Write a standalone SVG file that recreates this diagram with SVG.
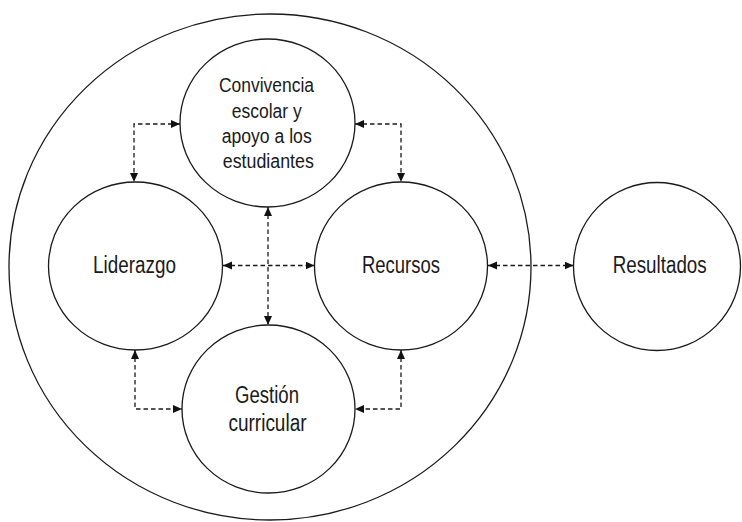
<svg xmlns="http://www.w3.org/2000/svg" width="742" height="522" viewBox="0 0 742 522">
<style>
.n{fill:#fff;stroke:#1a1a1a;stroke-width:1.3}
.t{font-family:"Liberation Sans Narrow","Liberation Sans",Arial,sans-serif;font-size:23px;fill:#1a1a1a;text-anchor:middle}
.s{font-size:20px}
.c{fill:none;stroke:#1a1a1a;stroke-width:1.3;stroke-dasharray:4.5 3;marker-start:url(#a);marker-end:url(#a)}
</style>
<defs>
<marker id="a" markerUnits="userSpaceOnUse" markerWidth="10" markerHeight="10" refX="9" refY="4" orient="auto-start-reverse">
<path d="M0,0 L9,4 L0,8 z" fill="#111"/>
</marker>
</defs>
<rect width="742" height="522" fill="#fff"/>
<g id="outer"><ellipse class="n" cx="270" cy="267" rx="261" ry="253"/></g>
<g id="convivencia">
<ellipse class="n" cx="267.5" cy="123" rx="87.5" ry="84"/>
<text class="t s" x="266.5" y="91.7" textLength="95" lengthAdjust="spacingAndGlyphs">Convivencia</text>
<text class="t s" x="266.7" y="117.7" textLength="70" lengthAdjust="spacingAndGlyphs">escolar y</text>
<text class="t s" x="266.7" y="143" textLength="90" lengthAdjust="spacingAndGlyphs">apoyo a los</text>
<text class="t s" x="268.3" y="168" textLength="91" lengthAdjust="spacingAndGlyphs">estudiantes</text>
</g>
<g id="liderazgo">
<ellipse class="n" cx="135.5" cy="266" rx="87" ry="84"/>
<text class="t" x="134.5" y="273.3" textLength="83" lengthAdjust="spacingAndGlyphs">Liderazgo</text>
</g>
<g id="recursos">
<ellipse class="n" cx="401" cy="266" rx="86.5" ry="84"/>
<text class="t" x="401" y="273.3" textLength="78" lengthAdjust="spacingAndGlyphs">Recursos</text>
</g>
<g id="gestion">
<ellipse class="n" cx="268.5" cy="409" rx="86.5" ry="84"/>
<text class="t" x="267" y="403.3" textLength="64" lengthAdjust="spacingAndGlyphs">Gestión</text>
<text class="t" x="267.5" y="431" textLength="78" lengthAdjust="spacingAndGlyphs">curricular</text>
</g>
<g id="resultados">
<ellipse class="n" cx="657" cy="266.5" rx="83.5" ry="84"/>
<text class="t" x="659.7" y="273.3" textLength="94" lengthAdjust="spacingAndGlyphs">Resultados</text>
</g>
<g id="connectors">
<path class="c" d="M180,124 H134 V182"/>
<path class="c" d="M355,124 H401 V182"/>
<path class="c" d="M223,265.5 H314.5"/>
<path class="c" d="M268,207 V325"/>
<path class="c" d="M488,265.5 H573.5"/>
<path class="c" d="M135,350 V409 H182"/>
<path class="c" d="M401,350 V409 H355"/>
</g>
</svg>
